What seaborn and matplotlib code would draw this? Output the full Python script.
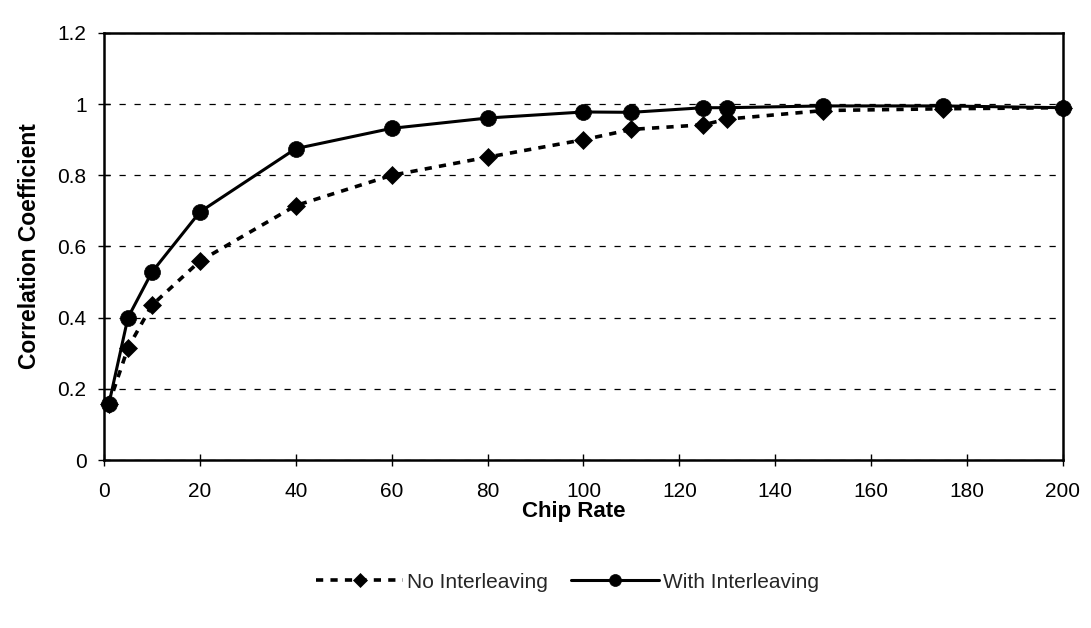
import matplotlib
matplotlib.use("Agg")
import matplotlib.pyplot as plt
import seaborn as sns
import pandas as pd

# Chip rate samples and measured correlation coefficients
chip_rate = [1, 5, 10, 20, 40, 60, 80, 100, 110, 125, 130, 150, 175, 200]
no_interleaving = [0.156, 0.315, 0.435, 0.559, 0.715, 0.800, 0.851, 0.900,
                   0.929, 0.942, 0.958, 0.982, 0.987, 0.990]
with_interleaving = [0.156, 0.400, 0.528, 0.697, 0.875, 0.932, 0.961, 0.978,
                     0.977, 0.990, 0.990, 0.995, 0.995, 0.990]

x_ticks = [0, 20, 40, 60, 80, 100, 120, 140, 160, 180, 200]
y_ticks = [0, 0.2, 0.4, 0.6, 0.8, 1.0, 1.2]

sns.set_theme(style="white")
plt.rcParams["font.family"] = ["Liberation Sans", "DejaVu Sans"]

df = pd.DataFrame({
    "Chip Rate": chip_rate,
    "No Interleaving": no_interleaving,
    "With Interleaving": with_interleaving,
})

fig = plt.figure(figsize=(10.91, 6.28), dpi=100)
ax = fig.add_axes([0.0953, 0.2675, 0.879, 0.68])

sns.lineplot(data=df, x="Chip Rate", y="No Interleaving", ax=ax,
             color="black", linewidth=2.6, linestyle=(0, (2, 2)),
             marker="D", markersize=9.5, markeredgecolor="black",
             markerfacecolor="black", markeredgewidth=0.5,
             label="No Interleaving", clip_on=False, zorder=3)
sns.lineplot(data=df, x="Chip Rate", y="With Interleaving", ax=ax,
             color="black", linewidth=2.2, linestyle="-",
             marker="o", markersize=11.5, markeredgecolor="black",
             markerfacecolor="black", markeredgewidth=0.5,
             label="With Interleaving", clip_on=False, zorder=4)

ax.set_xlim(0, 200)
ax.set_ylim(0, 1.2)
ax.set_xticks(x_ticks)
ax.set_yticks(y_ticks)
ax.set_xticklabels([f"{t:g}" for t in x_ticks], fontsize=15)
ax.set_yticklabels([f"{t:g}" for t in y_ticks], fontsize=15)
ax.tick_params(axis="both", which="major", direction="inout", length=9,
               width=1.0, color="black", labelcolor="black",
               bottom=True, left=True)
ax.tick_params(axis="x", pad=11)
ax.tick_params(axis="y", pad=8)

# Dashed horizontal reference lines
ax.yaxis.grid(True, linestyle=(0, (5, 7)), color="black", linewidth=0.9)
ax.xaxis.grid(False)
ax.set_axisbelow(True)

for side in ["left", "right", "top", "bottom"]:
    ax.spines[side].set_visible(True)
    ax.spines[side].set_color("black")
    ax.spines[side].set_linewidth(1.8)

ax.set_xlabel("Chip Rate", fontsize=16, fontweight="bold", color="black")
ax.set_ylabel("Correlation Coefficient", fontsize=16.5, fontweight="bold",
              color="black")
ax.xaxis.set_label_coords(0.49, -0.095)
ax.yaxis.set_label_coords(-0.066, 0.5)

handles, labels = ax.get_legend_handles_labels()
ax.get_legend().remove()
fig.legend(handles, labels, loc="center", bbox_to_anchor=(0.52, 0.073),
           ncol=2, frameon=False, fontsize=15, handlelength=4.2,
           handletextpad=0.2, columnspacing=1.1, markerscale=0.75)

fig.savefig("out.png", dpi=100, facecolor="white")
